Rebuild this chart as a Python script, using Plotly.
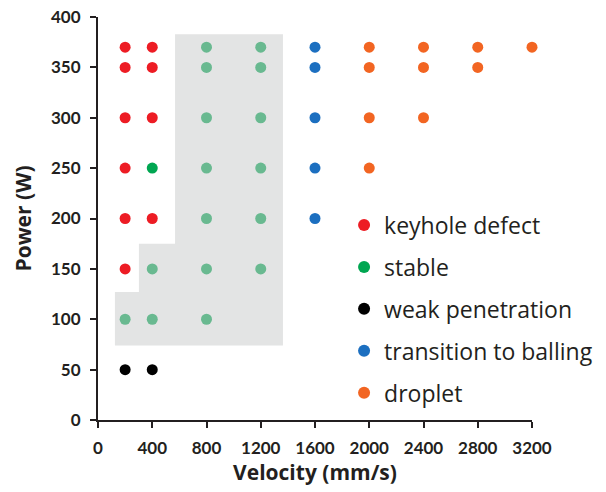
import plotly.graph_objects as go

# Data
keyhole_v = [200, 400, 200, 400, 200, 400, 200, 200, 400, 200]
keyhole_p = [370, 370, 350, 350, 300, 300, 250, 200, 200, 150]
stable_v = [800, 1200, 800, 1200, 800, 1200, 400, 800, 1200, 800, 1200, 400, 800, 1200, 200, 400, 800]
stable_p = [370, 370, 350, 350, 300, 300, 250, 250, 250, 200, 200, 150, 150, 150, 100, 100, 100]
weak_v = [200, 400]
weak_p = [50, 50]
balling_v = [1600, 1600, 1600, 1600, 1600]
balling_p = [370, 350, 300, 250, 200]
droplet_v = [2000, 2400, 2800, 3200, 2000, 2400, 2800, 2000, 2400, 2000]
droplet_p = [370, 370, 370, 370, 350, 350, 350, 300, 300, 250]

# stable-region outline (velocity, power)
region_v = [125, 1364, 1364, 568, 568, 302, 302, 125]
region_p = [74, 74, 383, 383, 175, 175, 127, 127]

x_ticks = [0, 400, 800, 1200, 1600, 2000, 2400, 2800, 3200]
y_ticks = [0, 50, 100, 150, 200, 250, 300, 350, 400]

series = [
    ("keyhole defect", keyhole_v, keyhole_p, "#ed1c24"),
    ("stable", stable_v, stable_p, "#00a651"),
    ("weak penetration", weak_v, weak_p, "#000000"),
    ("transition to balling", balling_v, balling_p, "#1c6fc0"),
    ("droplet", droplet_v, droplet_p, "#f26522"),
]

fig = go.Figure()
for i, (name, xs, ys, col) in enumerate(series):
    fig.add_trace(go.Scatter(
        x=xs, y=ys, mode="markers", name=name, legendgroup=str(i),
        marker=dict(color=col, size=11, line=dict(width=0)), cliponaxis=False,
    ))

path = "M " + " L ".join(f"{v},{p}" for v, p in zip(region_v, region_p)) + " Z"
fig.add_shape(type="path", path=path, xref="x", yref="y",
              fillcolor="#c9cbcc", opacity=0.52, line=dict(width=0), layer="above")

axis_font = dict(family="Lato", size=17, color="#231f20", weight="bold")
title_font = dict(family="Open Sans", size=21, color="#231f20", weight="bold")
fig.update_layout(
    width=606, height=492,
    margin=dict(l=98, r=74, t=17, b=72, autoexpand=False),
    paper_bgcolor="white", plot_bgcolor="white",
    showlegend=True,
    legend=dict(
        x=0.567, y=0.537, xanchor="left", yanchor="top",
        font=dict(family="Open Sans", size=23, color="#231f20"),
        bgcolor="rgba(0,0,0,0)", tracegroupgap=9, traceorder="grouped",
        itemsizing="constant",
    ),
    xaxis=dict(
        range=[0, 3200], tickvals=x_ticks, ticktext=[str(t) for t in x_ticks],
        showgrid=False, zeroline=False, showline=True, linecolor="#231f20", linewidth=2,
        ticks="outside", ticklen=6, tickwidth=2, tickcolor="#231f20",
        tickfont=axis_font, ticklabelstandoff=6, automargin=False,
        title=dict(text="Velocity (mm/s)", font=title_font, standoff=8),
    ),
    yaxis=dict(
        range=[0, 400], tickvals=y_ticks, ticktext=[str(t) for t in y_ticks],
        showgrid=False, zeroline=False, showline=True, linecolor="#231f20", linewidth=2,
        ticks="outside", ticklen=6, tickwidth=2, tickcolor="#231f20",
        tickfont=axis_font, ticklabelstandoff=6, automargin=False,
        title=dict(text="Power (W)", font=title_font, standoff=14),
    ),
)

fig.write_html("out.html")
